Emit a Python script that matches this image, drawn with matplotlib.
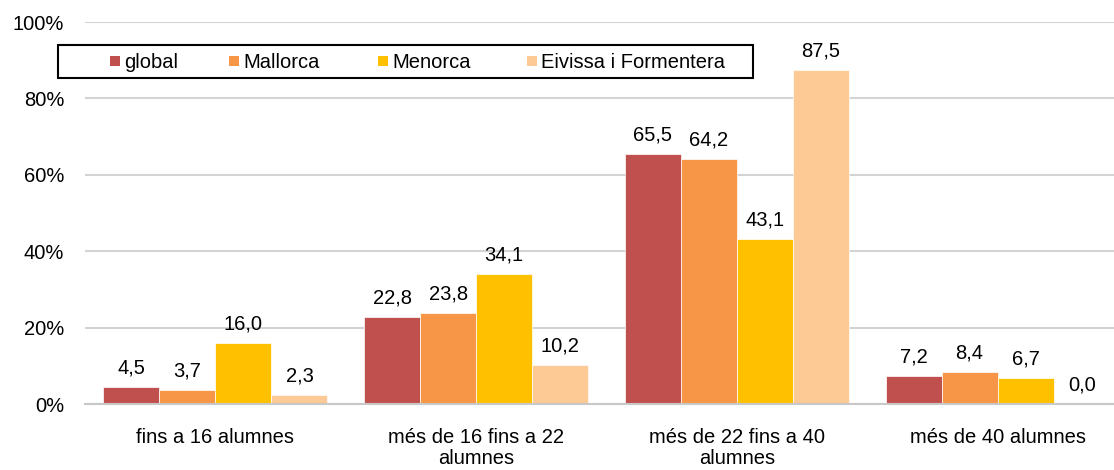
import matplotlib
matplotlib.use("Agg")
import matplotlib.pyplot as plt
from matplotlib.patches import Rectangle
import numpy as np

categories = ["fins a 16 alumnes", "més de 16 fins a 22\nalumnes", "més de 22 fins a 40\nalumnes", "més de 40 alumnes"]
series_names = ["global", "Mallorca", "Menorca", "Eivissa i Formentera"]
global_vals = [4.5, 22.8, 65.5, 7.2]
mallorca_vals = [3.7, 23.8, 64.2, 8.4]
menorca_vals = [16.0, 34.1, 43.1, 6.7]
eivissa_vals = [2.3, 10.2, 87.5, 0.0]
yticks = [0, 20, 40, 60, 80, 100]
ytick_labels = ["0%", "20%", "40%", "60%", "80%", "100%"]

colors = ["#C0504D", "#F79646", "#FFC000", "#FDC995"]
FS = 14.5

plt.rcParams['font.family'] = ['Liberation Sans', 'DejaVu Sans']

W, H = 1114, 470
fig = plt.figure(figsize=(W / 100, H / 100), dpi=100)
ax = fig.add_axes([85 / W, 1 - 404 / H, 1043 / W, 382 / H])

data = [global_vals, mallorca_vals, menorca_vals, eivissa_vals]
x = np.arange(len(categories))
w = 0.215
for i, (name, vals) in enumerate(zip(series_names, data)):
    pos = x + (i - 1.5) * w
    ax.bar(pos, vals, width=w, color=colors[i], label=name, zorder=3,
           edgecolor="white", linewidth=0.5)
    for p, v in zip(pos, vals):
        ax.annotate(f"{v:.1f}".replace(".", ","), (p, v), xytext=(0, 7),
                    textcoords="offset points", ha="center", va="bottom",
                    fontsize=FS, color="#000000")

ax.set_xlim(-0.5, len(categories) - 0.5)
ax.set_ylim(0, 100)
ax.set_yticks(yticks)
ax.set_yticklabels(ytick_labels, fontsize=FS)
ax.set_xticks(x)
ax.set_xticklabels(categories, fontsize=FS, linespacing=1.15)
ax.tick_params(axis='both', length=0)
ax.tick_params(axis='x', pad=17)
ax.tick_params(axis='y', pad=15)
ax.yaxis.grid(True, color="#D3D3D3", linewidth=1.5, zorder=0)
for s in ["top", "right", "left"]:
    ax.spines[s].set_visible(False)
ax.spines["bottom"].set_color("#C8C8C8")
ax.spines["bottom"].set_linewidth(1.5)
ax.spines["bottom"].set_zorder(4)

# legend box drawn in figure pixel coordinates
fig.add_artist(Rectangle((58 / W, 1 - 78 / H), 695 / W, 33 / H, transform=fig.transFigure,
                         facecolor="white", edgecolor="black", linewidth=1.5, zorder=10))
marker_x = [110, 229, 378, 527]
ycen = 61
for mx, name, c in zip(marker_x, series_names, colors):
    fig.add_artist(Rectangle((mx / W, 1 - (ycen + 5) / H), 10 / W, 10 / H,
                             transform=fig.transFigure, facecolor=c, edgecolor="none", zorder=11))
    fig.text((mx + 14) / W, 1 - ycen / H, name, fontsize=FS, ha="left", va="center_baseline",
             zorder=12)

fig.savefig("out.png", dpi=100)
